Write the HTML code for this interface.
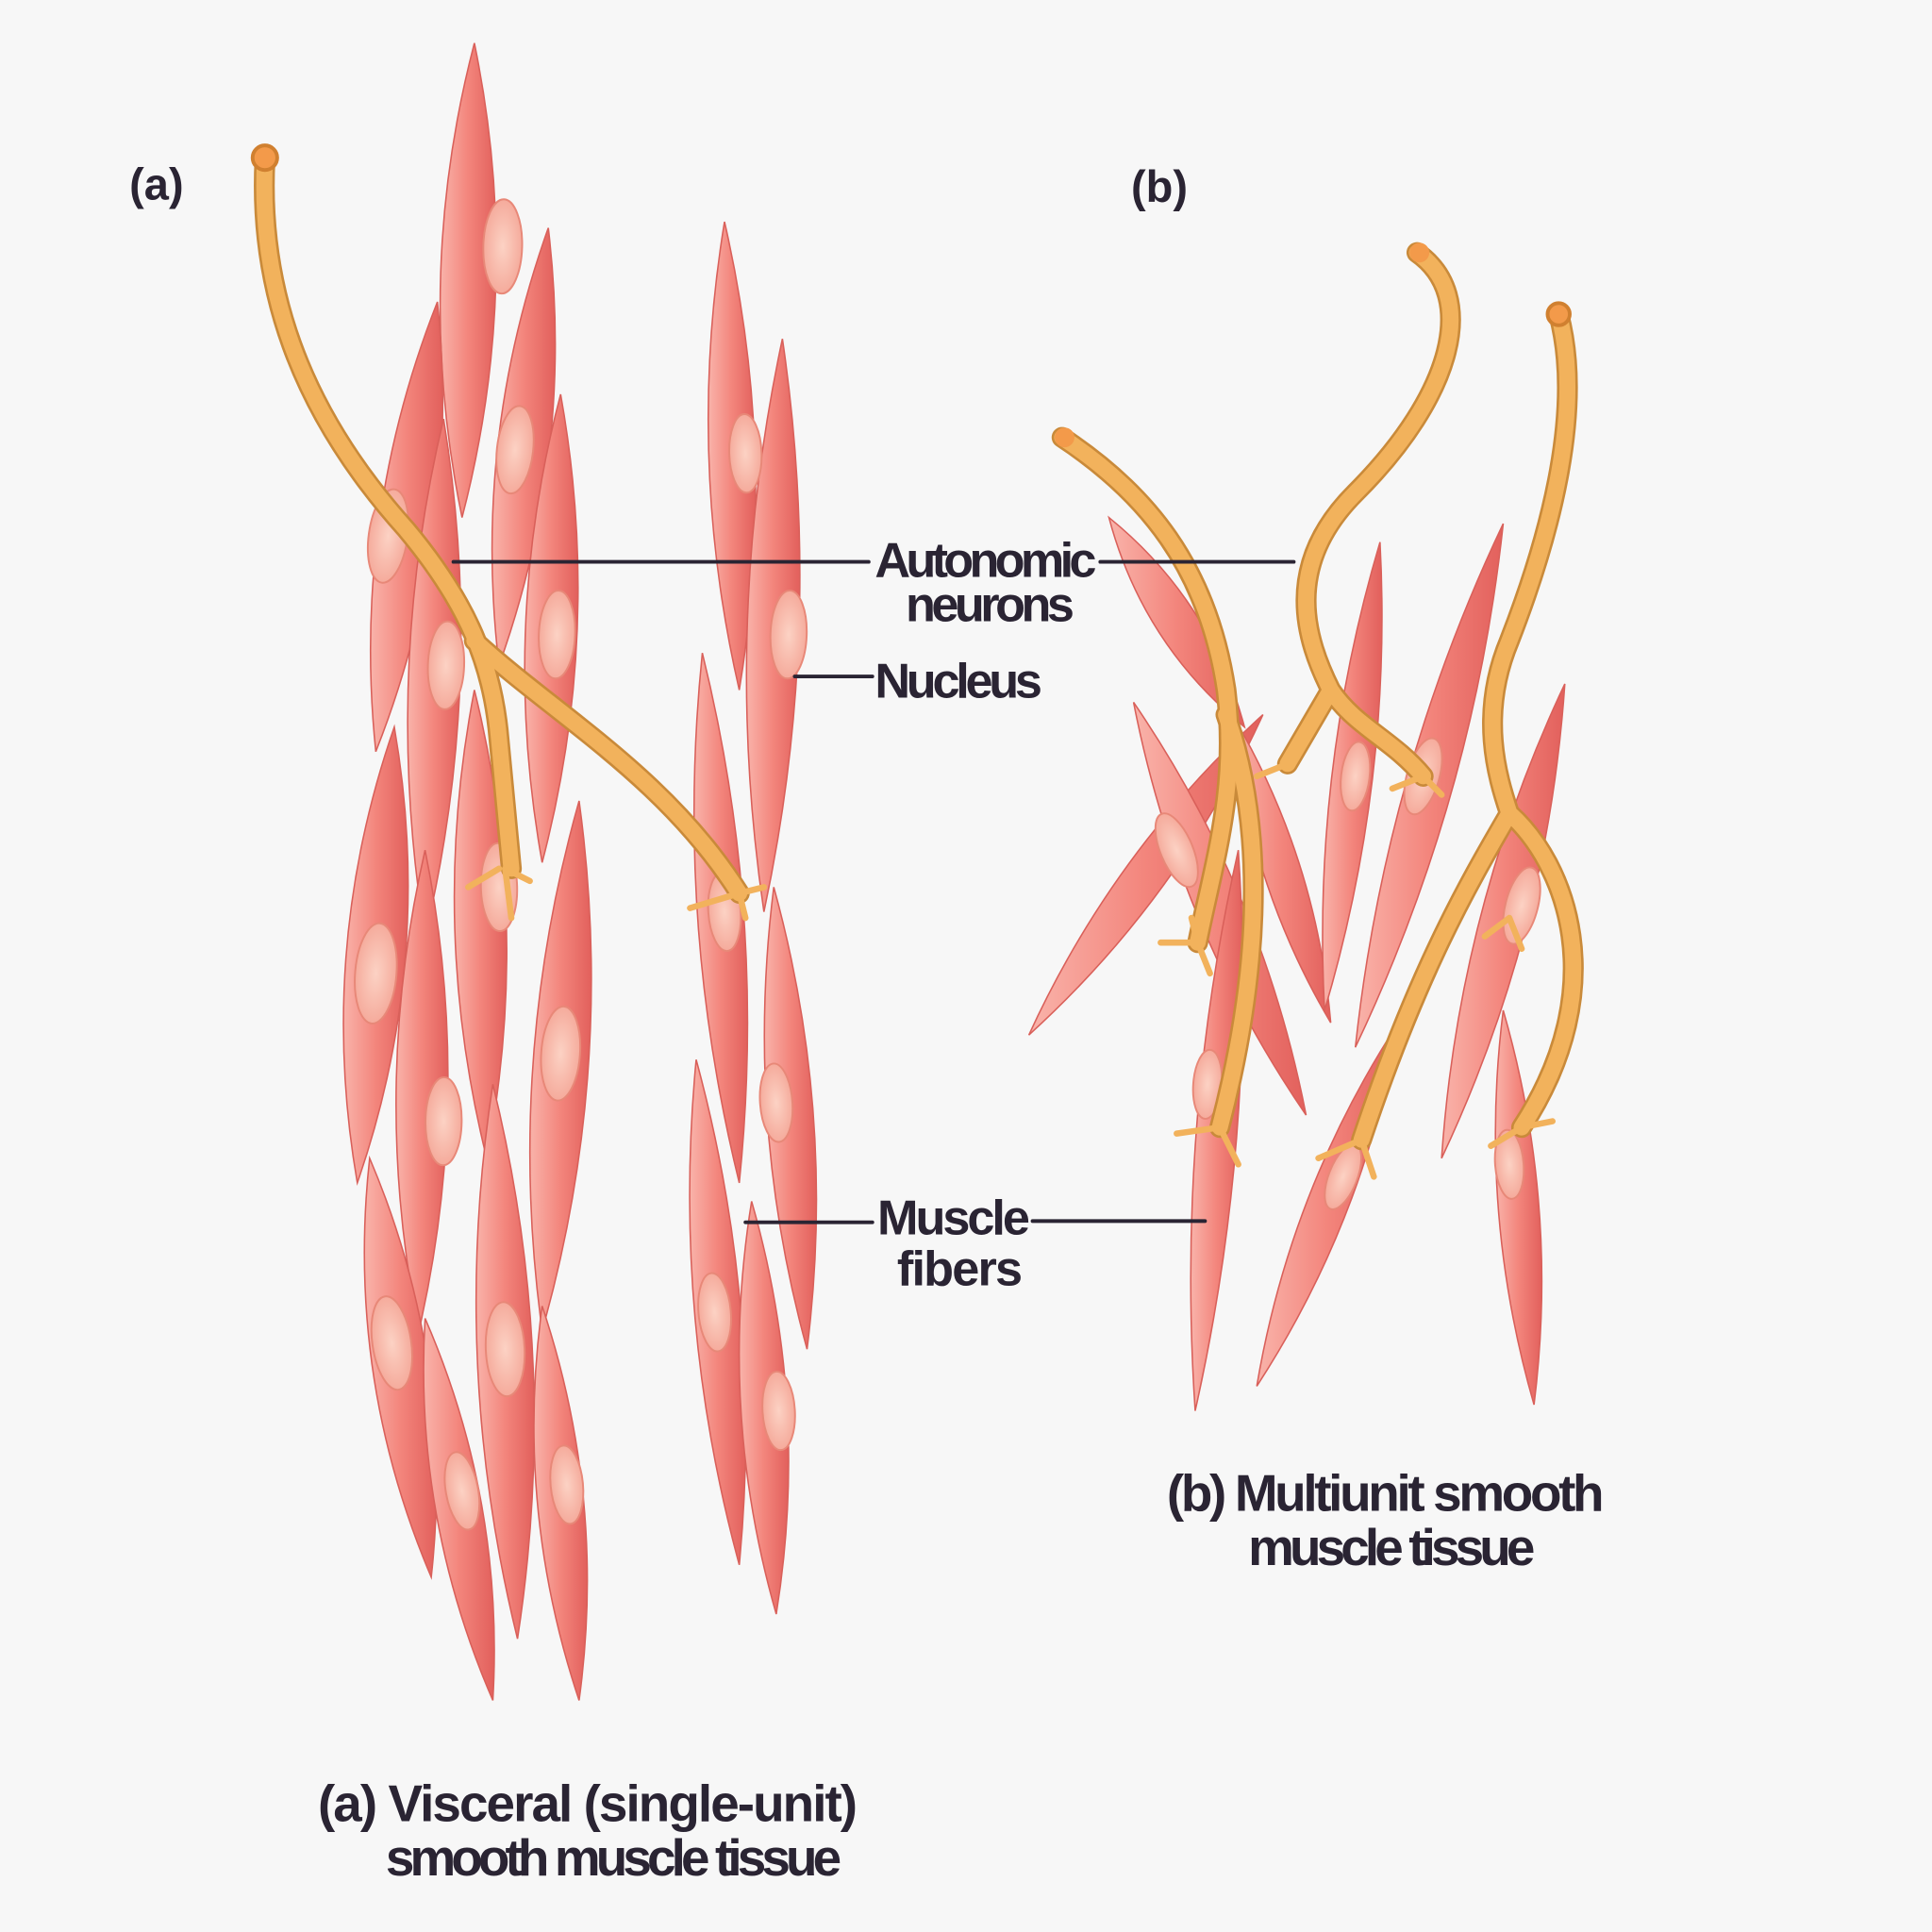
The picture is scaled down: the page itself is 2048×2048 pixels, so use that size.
<!DOCTYPE html>
<html><head><meta charset="utf-8"><style>
html,body{margin:0;padding:0;background:#f7f7f7;}
svg{display:block;}
text{font-family:"Liberation Sans Narrow","Liberation Sans",sans-serif;font-weight:bold;fill:#2a2433;}
</style></head><body>
<svg width="2048" height="2048" viewBox="0 0 1568 1568" xmlns="http://www.w3.org/2000/svg">
<defs>
<linearGradient id="cg" x1="0" y1="0" x2="1" y2="0">
<stop offset="0" stop-color="#f9b3aa"/><stop offset="0.5" stop-color="#f3857c"/><stop offset="1" stop-color="#e2605c"/>
</linearGradient>
<radialGradient id="ng"><stop offset="0" stop-color="#fcd2c4"/><stop offset="1" stop-color="#f5ab9c"/></radialGradient>
</defs>
<rect width="1568" height="1568" fill="#f7f7f7"/>
<g id="cells" stroke="#d9605a" stroke-width="1.2" fill="url(#cg)"></g>
<g id="nuc" fill="url(#ng)" stroke="#e88878" stroke-width="1.5"></g>
<g fill="none" stroke-linecap="round" stroke-linejoin="round">
<g stroke="#c98a3a" stroke-width="17">
<path id="n1" d="M215 130 C210 230 240 330 330 430 C380 490 400 540 405 600 L415 705"/>
<path id="n2" d="M385 520 C450 580 540 630 600 725"/>
<path id="n3" d="M862 355 C930 400 980 460 995 560 C1005 640 985 700 972 765"/>
<path id="n4" d="M995 580 C1030 680 1020 800 990 915"/>
<path id="n5" d="M1150 205 C1200 240 1180 320 1100 400 C1040 460 1060 520 1080 560 L1045 620 M1080 560 C1100 590 1130 600 1155 630"/>
<path id="n6" d="M1265 255 C1285 330 1260 430 1225 520 C1200 580 1215 630 1225 660 C1190 720 1150 790 1105 925 M1225 660 C1270 700 1310 800 1235 915"/>
</g>
<g stroke="#f2b25c" stroke-width="13">
<use href="#n1"/><use href="#n2"/><use href="#n3"/><use href="#n4"/><use href="#n5"/><use href="#n6"/>
</g>
<g stroke="#f2b25c" stroke-width="5">
<path d="M405 705 l-25 15 M410 705 l5 40 M410 705 l20 10 M600 725 l-40 12 M600 725 l20 -5 M600 725 l5 20"/>
<path d="M972 765 l-30 0 M972 765 l10 25 M972 765 l-5 -20 M990 915 l-35 5 M990 915 l15 30 M1045 620 l-25 10 M1155 630 l15 15 M1155 630 l-25 10"/>
<path d="M1105 925 l-35 15 M1105 925 l10 30 M1235 915 l-25 15 M1235 915 l25 -5 M1225 745 l-20 15 M1225 745 l10 25"/>
</g>
</g>
<circle cx="215" cy="128" r="10" fill="#f39a4a" stroke="#d08030" stroke-width="3"/>
<circle cx="864" cy="355" r="8" fill="#f39a4a"/>
<circle cx="1152" cy="205" r="8" fill="#f39a4a"/>
<circle cx="1265" cy="255" r="9" fill="#f39a4a" stroke="#d08030" stroke-width="3"/>
<g stroke="#2a2433" stroke-linecap="round">
<path d="M368 456 L705 456" stroke-width="3"/>
<path d="M893 456 L1050 456" stroke-width="3"/>
<path d="M645 549 L708 549" stroke-width="3"/>
<path d="M605 992 L708 992" stroke-width="3"/>
<path d="M838 991 L978 991" stroke-width="3"/>
</g>
<text x="105" y="162" font-size="36">(a)</text>
<text x="918" y="164" font-size="36">(b)</text>
<text x="710" y="468" font-size="40" textLength="180">Autonomic</text>
<text x="735" y="504" font-size="40" textLength="137">neurons</text>
<text x="710" y="566" font-size="40" textLength="136">Nucleus</text>
<text x="712" y="1002" font-size="40" textLength="124">Muscle</text>
<text x="728" y="1043" font-size="40" textLength="102">fibers</text>
<text x="258" y="1478" font-size="42" textLength="438">(a)  Visceral (single-unit)</text>
<text x="313" y="1522" font-size="42" textLength="370">smooth muscle tissue</text>
<text x="947" y="1226" font-size="42" textLength="355">(b) Multiunit smooth</text>
<text x="1013" y="1270" font-size="42" textLength="233">muscle tissue</text>
<script>
var C=[[385,35,375,420,30,408,200],[445,185,405,540,28,418,365],[355,245,305,610,30,315,435],[455,320,440,700,28,452,515],[360,340,345,760,28,362,540],[320,590,290,960,32,305,790],[385,560,395,940,28,405,720],[470,650,440,1080,30,455,855],[345,690,340,1080,28,360,910],[400,880,420,1330,30,410,1095],[300,940,350,1280,30,318,1090],[345,1070,400,1380,25,375,1210],[440,1060,470,1380,25,460,1205],
[588,180,600,560,25,605,368],[635,275,620,740,28,640,515],[570,530,600,960,25,588,740],[628,720,655,1095,25,630,895],[565,860,600,1270,25,580,1065],[610,975,630,1310,25,632,1145],
[900,420,1010,590,22],[1025,580,835,840,22],[920,570,1060,905,25,955,690],[1000,580,1080,830,20],[1120,440,1075,820,22,1100,630],[1220,425,1100,850,25,1155,630],[1270,555,1170,940,25,1235,735],[1005,690,970,1145,22,980,880],[1135,830,1020,1125,22,1090,955],[1220,820,1245,1140,22,1225,945]];
var g=document.getElementById('cells'),n=document.getElementById('nuc'),NS='http://www.w3.org/2000/svg';
C.forEach(function(c){var x1=c[0],y1=c[1],x2=c[2],y2=c[3],w=c[4]*0.75;var dx=x2-x1,dy=y2-y1,L=Math.hypot(dx,dy),px=-dy/L,py=dx/L,mx=(x1+x2)/2,my=(y1+y2)/2;
var p=document.createElementNS(NS,'path');p.setAttribute('d','M'+x1+' '+y1+' Q'+(mx+px*w*2)+' '+(my+py*w*2)+' '+x2+' '+y2+' Q'+(mx-px*w*2)+' '+(my-py*w*2)+' '+x1+' '+y1+'Z');g.appendChild(p);
if(c.length>5){var e=document.createElementNS(NS,'ellipse');e.setAttribute('cx',c[5]);e.setAttribute('cy',c[6]);e.setAttribute('rx',w*0.7);e.setAttribute('ry',w*1.7);var a=Math.atan2(dx,dy)*-180/Math.PI;e.setAttribute('transform','rotate('+a+' '+c[5]+' '+c[6]+')');n.appendChild(e);}});
</script>
</svg>
</body></html>
